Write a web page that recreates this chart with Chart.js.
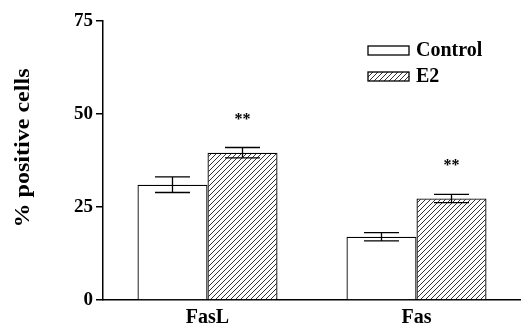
<!DOCTYPE html>
<html>
<head>
<meta charset="utf-8">
<script src="https://cdn.jsdelivr.net/npm/chart.js@4.4.0/dist/chart.umd.min.js"></script>
<style>
  html, body { margin: 0; padding: 0; background: #fff; }
  #wrap { width: 521px; height: 324px; }
</style>
</head>
<body>
<div id="wrap"><canvas id="barChart" width="521" height="324"></canvas></div>
<script>
var categories = ["FasL", "Fas"];
var controlValues = [31.0, 17.0];
var controlErrors = [2.1, 1.1];
var e2Values = [39.6, 27.3];
var e2Errors = [1.4, 1.1];
var e2Marks = ["**", "**"];
var yTicks = [0, 25, 50, 75];
var yTitle = "% positive cells";

var serif = "'Liberation Serif', 'Times New Roman', serif";

// hatch pattern for the E2 bars
function makeHatch() {
    var c = document.createElement("canvas");
    c.width = 5; c.height = 5;
    var g = c.getContext("2d");
    g.fillStyle = "#fff";
    g.fillRect(0, 0, 5, 5);
    g.strokeStyle = "#333";
    g.lineWidth = 1;
    g.beginPath();
    g.moveTo(-1, 6); g.lineTo(6, -1);
    g.moveTo(-1, 1); g.lineTo(1, -1);
    g.moveTo(4, 6); g.lineTo(6, 4);
    g.stroke();
    return g.createPattern(c, "repeat");
}
var hatch = makeHatch();

var extras = {
    id: "extras",
    afterDatasetsDraw: function (chart) {
        var ctx = chart.ctx;
        var y = chart.scales.y;
        var errs = [controlErrors, e2Errors];
        ctx.save();
        ctx.strokeStyle = "#000";
        ctx.lineWidth = 1.3;
        chart.data.datasets.forEach(function (ds, di) {
            var meta = chart.getDatasetMeta(di);
            meta.data.forEach(function (bar, i) {
                var v = ds.data[i], e = errs[di][i];
                var top = y.getPixelForValue(v + e);
                var bot = y.getPixelForValue(v - e);
                var half = bar.width / 4;
                ctx.beginPath();
                ctx.moveTo(bar.x, top); ctx.lineTo(bar.x, bot);
                ctx.moveTo(bar.x - half, top); ctx.lineTo(bar.x + half, top);
                ctx.moveTo(bar.x - half, bot); ctx.lineTo(bar.x + half, bot);
                ctx.stroke();
                if (di === 1 && e2Marks[i]) {
                    ctx.fillStyle = "#000";
                    ctx.font = "bold 16px " + serif;
                    ctx.textAlign = "center";
                    ctx.textBaseline = "middle";
                    ctx.fillText(e2Marks[i], bar.x, top - 28);
                }
            });
        });

        // legend
        var items = [["Control", "#fff"], ["E2", hatch]];
        ctx.font = "bold 20px " + serif;
        ctx.textAlign = "left";
        ctx.textBaseline = "middle";
        items.forEach(function (it, k) {
            var ly = 46 + k * 26;
            ctx.fillStyle = it[1];
            ctx.fillRect(368, ly, 41, 9);
            ctx.strokeRect(368, ly, 41, 9);
            ctx.fillStyle = "#000";
            ctx.fillText(it[0], 416, ly + 5);
        });

        // y axis title, stretched a little along its length like the original
        ctx.font = "bold 20px " + serif;
        var w = ctx.measureText(yTitle).width;
        ctx.translate(24, 148);
        ctx.rotate(-Math.PI / 2);
        ctx.scale(159 / w, 1);
        ctx.textAlign = "center";
        ctx.fillText(yTitle, 0, 0);
        ctx.restore();
    }
};

new Chart(document.getElementById("barChart").getContext("2d"), {
    type: "bar",
    data: {
        labels: categories,
        datasets: [
            {
                label: "Control",
                data: controlValues,
                backgroundColor: "#fff",
                borderColor: "#000",
                borderWidth: 1.3,
                borderSkipped: "bottom"
            },
            {
                label: "E2",
                data: e2Values,
                backgroundColor: hatch,
                borderColor: "#000",
                borderWidth: 1.3,
                borderSkipped: "bottom"
            }
        ]
    },
    options: {
        responsive: false,
        animation: false,
        layout: { padding: { top: 21, right: 0, left: 0, bottom: 0 } },
        plugins: {
            legend: { display: false },
            tooltip: { enabled: false }
        },
        datasets: { bar: { barPercentage: 1, categoryPercentage: 0.67 } },
        scales: {
            x: {
                grid: { display: false, drawTicks: false, tickLength: 0 },
                border: { display: true, color: "#000", width: 1.5 },
                ticks: {
                    color: "#000",
                    padding: 6,
                    font: { family: serif, size: 20, weight: "bold" }
                },
                afterFit: function (s) { s.height = 24; }
            },
            y: {
                min: 0,
                max: 75,
                afterBuildTicks: function (s) {
                    s.ticks = yTicks.map(function (v) { return { value: v }; });
                },
                grid: { drawOnChartArea: false, tickLength: 7, color: "#000", lineWidth: 1.5 },
                border: { display: true, color: "#000", width: 1.5 },
                ticks: {
                    color: "#000",
                    padding: 3,
                    font: { family: serif, size: 19, weight: "bold" }
                },
                title: { display: false },
                afterFit: function (s) { s.width = 103; }
            }
        }
    },
    plugins: [extras]
});
</script>
</body>
</html>
